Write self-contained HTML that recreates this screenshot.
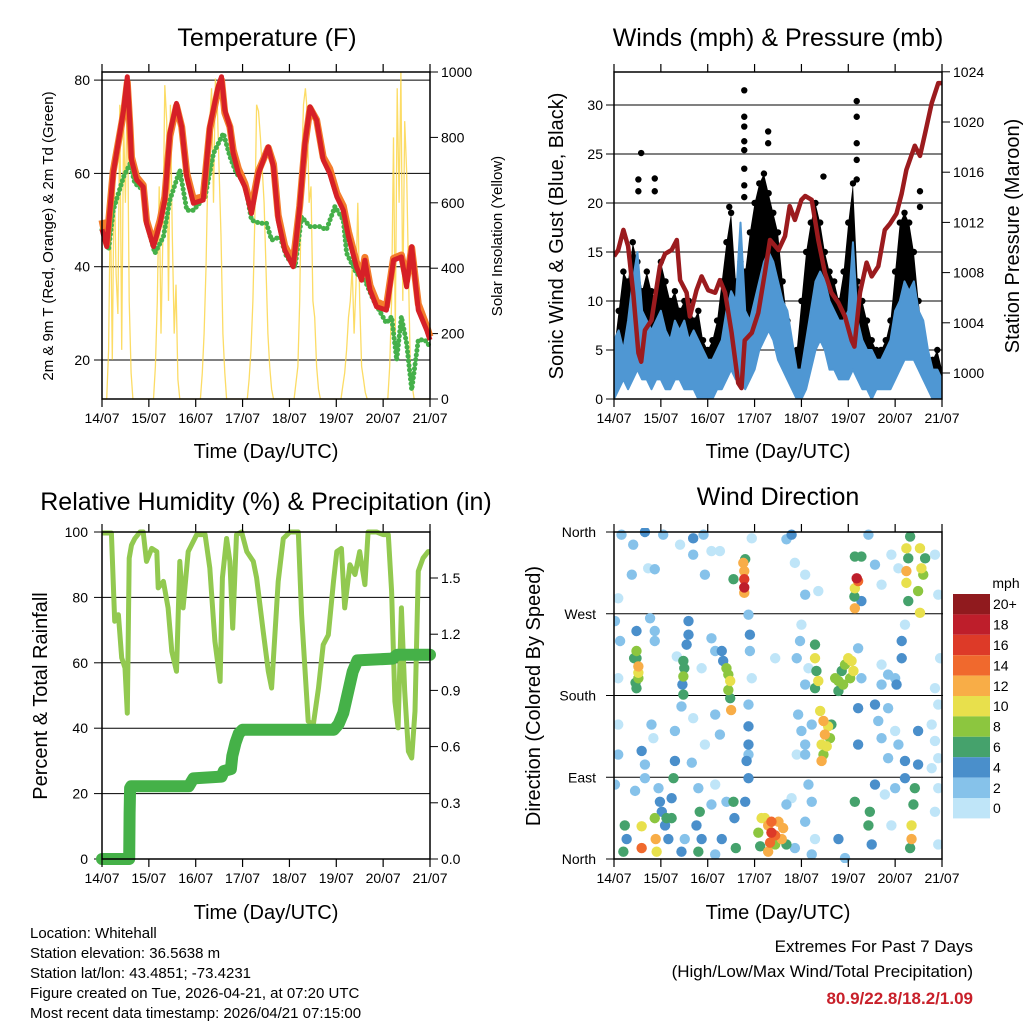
<!DOCTYPE html>
<html><head><meta charset="utf-8"><style>
html,body{margin:0;padding:0;background:#fff;}
svg{display:block;font-family:"Liberation Sans",Arial,sans-serif;}
</style></head><body>
<svg id="fig" width="1024" height="1024" viewBox="0 0 1024 1024" xmlns="http://www.w3.org/2000/svg">
<rect width="1024" height="1024" fill="#fff"/>
<g id="g1"></g>
<g id="g2"></g>
<g id="g3"></g>
<g id="g4"></g>
<g id="gt">
<text x="267" y="46" font-size="25" text-anchor="middle">Temperature (F)</text>
<text x="778" y="46" font-size="25" text-anchor="middle">Winds (mph) &amp; Pressure (mb)</text>
<text x="266" y="510" font-size="25" text-anchor="middle">Relative Humidity (%) &amp; Precipitation (in)</text>
<text x="778" y="505" font-size="25" text-anchor="middle">Wind Direction</text>
<text x="266" y="458" font-size="20" text-anchor="middle">Time (Day/UTC)</text>
<text x="778" y="458" font-size="20" text-anchor="middle">Time (Day/UTC)</text>
<text x="266" y="919" font-size="20" text-anchor="middle">Time (Day/UTC)</text>
<text x="778" y="919" font-size="20" text-anchor="middle">Time (Day/UTC)</text>
<text transform="translate(53,236) rotate(-90)" font-size="15" text-anchor="middle">2m &amp; 9m T (Red, Orange) &amp; 2m Td (Green)</text>
<text transform="translate(502,236) rotate(-90)" font-size="15" text-anchor="middle">Solar Insolation (Yellow)</text>
<text transform="translate(563,236) rotate(-90)" font-size="20" text-anchor="middle">Sonic Wind &amp; Gust (Blue, Black)</text>
<text transform="translate(1019,236) rotate(-90)" font-size="20" text-anchor="middle">Station Pressure (Maroon)</text>
<text transform="translate(47,696) rotate(-90)" font-size="20" text-anchor="middle">Percent &amp; Total Rainfall</text>
<text transform="translate(540,696) rotate(-90)" font-size="20" text-anchor="middle">Direction (Colored By Speed)</text>
<g font-size="15">
<text x="30" y="938">Location: Whitehall</text>
<text x="30" y="958">Station elevation: 36.5638 m</text>
<text x="30" y="978">Station lat/lon: 43.4851; -73.4231</text>
<text x="30" y="998">Figure created on Tue, 2026-04-21, at 07:20 UTC</text>
<text x="30" y="1018">Most recent data timestamp: 2026/04/21 07:15:00</text>
</g>
<g text-anchor="end">
<text x="973" y="952" font-size="17">Extremes For Past 7 Days</text>
<text x="973" y="977" font-size="17">(High/Low/Max Wind/Total Precipitation)</text>
<text x="973" y="1004" font-size="17" font-weight="bold" fill="#c8202a">80.9/22.8/18.2/1.09</text>
</g>
</g>
</svg>
<script>
// ---------- Temperature data ----------
const tT=[0,.10,.24,.46,.54,.60,.63,.74,.88,.95,1.10,1.24,1.34,1.45,1.59,1.70,1.81,1.95,2.16,2.30,2.48,2.55,2.62,2.73,2.80,2.91,3.05,3.19,3.34,3.55,3.66,3.76,3.90,4.08,4.22,4.33,4.44,4.58,4.72,4.86,5.01,5.15,5.26,5.43,5.54,5.61,5.72,5.86,6.07,6.22,6.39,6.50,6.61,6.75,6.93,7.0];
const temp2m=[48,44.3,60,73.6,80.7,70,62.9,58.6,57.1,49.3,44.3,49.3,54.3,68.6,75,70,59.3,53.6,54.3,70,78.6,80.7,73.6,70,64.3,60,57.1,51.4,60,65.7,61.4,50,43.6,40,52.9,66.4,74.3,71.4,62.9,60,55,52.1,46.4,40,37.1,41.4,35,31.4,30.7,41.4,42.1,35.7,44.3,30.7,26.4,24.3];
const temp9m=[50,45,60.5,73,79.5,69.5,63.5,59.2,57.5,50,45,50,55,68,74.5,70,60,54.5,55,69.5,78,80,73,70,65,61,57.8,52.5,60.5,65.5,62,51,44.5,41,53,66,74,71.5,63.5,61,55.8,53,47.5,41,38,42,36,32.5,31.5,41.8,42.5,37,44,32,27.2,25];
const tTd=[0,.14,.24,.46,.60,.70,.88,.99,1.13,1.31,1.45,1.66,1.81,1.95,2.20,2.38,2.59,2.73,2.87,3.05,3.19,3.37,3.51,3.62,3.80,3.94,4.12,4.26,4.44,4.65,4.79,4.97,5.15,5.22,5.43,5.61,5.79,6.07,6.18,6.29,6.39,6.50,6.61,6.75,6.89,7.0];
const dew2m=[47.9,43.6,52.1,59.3,62.1,57.9,56.4,47.9,42.9,46.4,54.3,60.7,52.1,52.1,55,64.3,68.6,63.6,60,57.9,50,49.3,49.3,45.7,46.4,42.1,40,50.7,48.6,48.6,47.9,52.9,50,42.9,38.6,37.1,32.9,27.9,29.3,20,29.3,23.6,13.6,24.3,24.3,22.9];
const solarDayFrac=[.10,.14,.18,.22,.26,.30,.34,.38,.42,.46,.50,.54,.58,.62,.66];
const solar=[
[0,150,620,120,700,380,260,900,150,850,600,960,300,80,0],
[0,100,300,650,200,500,960,850,300,900,500,200,350,60,0],
[0,80,200,400,700,850,950,600,980,900,700,500,200,80,0],
[0,60,150,300,550,900,880,800,700,600,400,200,100,30,0],
[0,50,100,300,700,900,950,880,600,650,300,250,100,30,0],
[0,40,80,150,250,300,400,200,350,600,300,100,60,20,0],
[0,100,300,800,200,950,600,1000,300,850,700,400,100,40,0]];
// ---------- Wind data ----------
const windT=[0,.1,.2,.3,.4,.5,.6,.7,.8,.9,1,1.1,1.2,1.3,1.4,1.5,1.6,1.7,1.8,1.9,2,2.1,2.2,2.3,2.4,2.5,2.6,2.7,2.8,2.9,3,3.1,3.2,3.3,3.4,3.5,3.6,3.7,3.8,3.9,4,4.1,4.2,4.3,4.4,4.5,4.6,4.7,4.8,4.9,5,5.1,5.2,5.3,5.4,5.5,5.6,5.7,5.8,5.9,6,6.1,6.2,6.3,6.4,6.5,6.6,6.7,6.8,6.9,7];
const windHi=[6,7,5,8,12,15,9,8,7,8,9,7,6,8,7,8,6,7,6,5,4,4,5,6,9,11,10,18,9,8,10,12,14,15,14,12,10,9,6,3,3,6,9,12,13,12,10,9,8,8,9,16,8,6,5,5,4,4,5,6,9,10,12,11,12,9,8,5,3,3,2];
const windLo=[0,1,2,1,2,3,2,2,1,2,2,1,1,2,2,1,1,1,0,0,0,0,1,1,2,3,2,2,1,2,3,5,6,7,6,4,3,2,1,0,0,1,3,5,6,5,3,3,2,2,2,3,2,1,1,0,1,1,1,1,2,3,4,4,4,3,2,1,0,0,0];
const gust=[5,9,13,12,16,14,11,13,11,10,14,12,10,11,9,10,10,8,9,6,5,6,8,12,16,19,12,14,13,17,20,22,23,21,19,17,12,8,5,5,10,15,18,20,18,15,13,12,10,13,18,22,12,10,8,6,5,5,6,8,13,18,19,18,15,10,6,4,4,5,3];
const peakT=[.52,.52,.58,.87,.87,2.78,2.78,2.78,2.78,2.78,2.78,2.78,2.78,3.29,3.29,5.18,5.18,5.18,5.18,5.18,2.46,6.53,6.53,4.47];
const peakG=[21.2,22.4,25.1,22.5,21.2,31.5,28.8,27.8,26.3,25.4,23.5,21.8,20.6,27.3,26.1,30.4,28.8,26.1,24.4,22.4,19.6,21.2,19.6,22.7];
const presT=[0,.09,.20,.30,.41,.52,.58,.66,.80,.98,1.09,1.23,1.34,1.41,1.55,1.62,1.76,1.87,2.01,2.16,2.26,2.37,2.51,2.65,2.72,2.79,2.94,3.08,3.22,3.33,3.51,3.65,3.75,3.86,4.00,4.08,4.22,4.36,4.50,4.64,4.79,4.93,5.07,5.13,5.25,5.39,5.50,5.64,5.78,5.89,6.03,6.14,6.24,6.42,6.53,6.64,6.78,6.92,7.0];
const pres=[1009.3,1009.8,1011.4,1010.1,1006.4,1001.6,1000.9,1003.4,1004.2,1008.5,1009.5,1009.8,1010.6,1007.4,1006.4,1004.5,1006.6,1007.7,1006.6,1006.4,1007.4,1006.4,1003.2,999.2,998.8,1002.6,1003.2,1004.8,1008,1010.6,1009.8,1010.9,1013.3,1012.2,1013.8,1014.1,1013.8,1010.6,1008,1006.4,1005.6,1004.5,1002.6,1002.1,1006.4,1008.8,1007.7,1008.5,1011.4,1011.9,1012.7,1014.3,1016.2,1018.1,1017.3,1019.1,1021.5,1023.1,1023.1];
// ---------- RH / rain data ----------
const rhT=[0,.20,.27,.35,.42,.49,.54,.58,.63,.70,.81,.88,.95,1.06,1.17,1.20,1.31,1.41,1.49,1.59,1.66,1.73,1.84,2.02,2.20,2.30,2.41,2.52,2.57,2.66,2.73,2.79,2.87,2.98,3.09,3.23,3.30,3.44,3.55,3.62,3.76,3.87,4.01,4.19,4.26,4.40,4.51,4.62,4.72,4.83,4.94,5.01,5.11,5.18,5.29,5.40,5.50,5.61,5.68,5.86,6.00,6.11,6.18,6.25,6.32,6.39,6.46,6.54,6.61,6.68,6.75,6.85,6.96,7.0];
const rh=[99.7,99.7,72.7,74.7,61.5,58.4,44.6,92,96,98,100,100,91,95,94,82.9,84.9,76.8,63.5,57.4,91,76.8,94,99.2,99.2,89,66.6,54.3,86,98,91,70.6,99.2,100,94,91,86,69.6,57.4,52.3,84.9,98,100,100,74.7,42.1,41.1,52.3,65.5,68.5,84.9,94,95,76.8,90,87,94,83.9,100,100,99.2,99.2,81.9,48.2,40.1,76.8,51.3,32.9,30.9,45.2,88,92,94,94];
const rainT=[0,.58,.59,.60,.62,1.85,1.95,2.55,2.60,2.75,2.78,2.85,2.92,3.0,4.95,5.05,5.15,5.35,5.45,6.2,6.3,7.0];
const rain=[0,0,.246,.379,.388,.388,.43,.44,.47,.48,.55,.62,.67,.69,.69,.72,.78,1.0,1.06,1.07,1.09,1.09];
// ---------- Wind direction data ----------
const dirT=[.48,.48,.52,.52,.52,.46,.48,.43, 1.48,1.50,1.48,1.46,1.48, 2.30,2.33,2.40,2.44,2.48,2.44,2.48,2.50,
4.29,4.29,4.32,4.36,4.29,4.72,4.79,4.86,4.93,5.00,5.07,5.11,4.79,4.89,5.04,
4.40,4.47,4.57,4.50,4.43,4.54,4.47,4.43,4.64,4.61,
2.80,2.76,2.78,2.78,2.78,2.78,2.55,
5.14,5.28,5.18,5.21,5.14,5.13,5.14,5.28,
6.32,6.24,6.28,6.53,6.56,6.60,6.24,6.49,6.64,6.28,6.53,6.24,
3.15,3.22,3.29,3.36,3.44,3.51,3.61,3.58,3.33,3.29,3.08,3.12,3.68,3.44,3.36,
.23,.27,.20,.59,.59,.87,.89,.91,1.02,1.09,1.16,1.23,1.27,.98,1.12,
1.76,1.83,1.87,1.80, 2.55,2.57,2.60, 5.46,5.43,5.50,5.14, 6.42,6.39,6.35,6.35,6.32,
.16,.41,.66,.73,.87,.38,1.05,1.41,1.69,1.69,1.91,1.94,2.08,2.26,2.94,2.87,3.68,3.79,3.86,4.08,4.08,4.36,5.43,5.57,5.71,5.92,6.07,6.85,6.92,.09,
.02,.13,.48,.77,.87,.87,1.59,1.59,1.55,1.34,2.08,2.16,1.87,2.90,2.90,2.94,3.44,4.00,3.97,3.90,4.08,4.15,5.21,5.28,5.71,6.00,6.14,6.14,6.03,6.21,6.96,6.85,.09,5.71,5.85,
.09,.09,.59,.66,.80,.84,1.30,1.30,1.44,1.69,1.66,1.94,2.16,2.26,2.87,2.87,2.87,2.87,2.83,3.93,4.00,4.08,4.08,3.90,4.22,5.21,5.21,5.64,5.71,5.85,6.00,6.07,6.21,6.49,6.49,6.78,6.85,6.92,6.78,6.92,5.57,5.85,
.02,.45,.66,.95,1.23,1.80,2.16,2.08,2.40,2.87,2.80,3.68,3.79,4.15,4.22,4.08,4.29,4.22,3.86,4.79,4.93,5.57,5.78,6.00,5.92,6.21,6.92,6.85,6.92,2.30,2.16,1.44,1.51];
const dirDeg=[229,221,212,205,199,194,188,221, 218,210,201,192,181, 229,218,210,203,196,186,177,164,
236,221,207,196,188,199,196,207,214,221,218,207,185,192,199,
163,152,146,137,126,124,115,108,148,133,
330,326,317,308,299,293,308,
333,333,309,306,298,289,276,284,
355,342,331,342,320,313,317,295,331,284,271,304,
45,45,37,41,26,41,34,22,18,8,29,14,16,16,29,
37,22,8,36,12,45,22,8,52,37,22,45,89,63,45,
37,52,22,8, 63,45,12, 52,37,16,63, 78,60,37,22,12,
357,346,360,320,319,313,357,346,353,335,357,313,339,339,353,269,352,357,326,313,291,295,357,324,302,335,320,335,291,287,
262,240,251,265,251,240,262,247,236,223,243,229,210,247,229,199,221,258,240,221,192,210,232,199,214,199,240,221,192,258,221,188,199,192,203,
148,115,119,104,148,133,141,108,168,155,106,126,159,137,170,146,126,115,108,159,141,126,115,115,148,166,126,152,133,111,141,126,108,141,104,148,130,111,100,170,170,166,
82,75,89,78,67,78,82,60,63,89,63,60,67,82,63,41,22,5,12,22,1,82,71,78,37,89,78,52,16,22,5,8,22];
const dirSpd=[8,7,12,10,9,7,6,6, 6,7,8,5,6, 4,5,9,8,10,9,7,13,
6,10,7,10,6,8,9,7,8,10,11,10,7,8,9,
10,12,10,12,10,11,8,13,7,9,
7,12,13,16,19,13,7,
7,6,18,14,11,7,13,5,
7,10,7,10,10,8,13,8,6,7,10,10,
11,10,13,15,14,12,13,12,14,13,8,7,6,9,16,
6,5,7,10,15,8,13,10,4,4,5,6,6,4,7,
5,6,4,6, 7,4,6, 6,7,5,6, 7,6,10,13,7,
2,3,5,1,2,2,3,1,4,3,3,2,1,1,1,3,3,4,1,1,2,1,3,2,1,1,1,1,1,1,
2,3,4,2,2,3,4,4,4,1,3,3,1,4,3,1,1,1,2,3,2,1,3,2,1,3,4,4,4,1,1,1,1,2,2,
1,2,4,3,2,1,3,4,3,1,2,1,2,2,3,4,4,3,4,2,3,2,2,1,2,4,4,2,2,2,1,3,4,4,4,1,1,1,1,1,4,3,
2,3,3,2,5,2,1,2,3,4,4,3,1,2,3,2,1,3,3,4,2,4,1,2,1,4,1,1,1,4,2,4,3];
const speedLevels=["0","2","4","6","8","10","12","14","16","18","20+"];
const speedColors=["#bfe5f8","#86c2ea","#4a8fcb","#45a26c","#8cc63f","#e8e04c","#f8ad47","#f0692d","#dd3a28","#be1e2b","#901a1e"];

// ---------- helpers ----------
const NS="http://www.w3.org/2000/svg";
function mk(parent,tag,attrs){const e=document.createElementNS(NS,tag);for(const k in attrs)e.setAttribute(k,attrs[k]);parent.appendChild(e);return e;}
function txt(parent,x,y,s,anchor,size){const e=mk(parent,"text",{x:x,y:y,"font-size":size||14,"text-anchor":anchor||"middle"});e.textContent=s;return e;}
const days=["14/07","15/07","16/07","17/07","18/07","19/07","20/07","21/07"];
function frame(g,x0,x1,y0,y1,name){
  const r=mk(g,"rect",{x:x0,y:y0,width:x1-x0,height:y1-y0,fill:"none",stroke:"#000","stroke-width":1.5});
  
  
  const sx=t=>x0+t*(x1-x0)/7;
  for(let i=0;i<=7;i++){
    const x=sx(i);
    mk(g,"line",{x1:x,x2:x,y1:y1,y2:y1+8,stroke:"#000","stroke-width":1.2});
    mk(g,"line",{x1:x,x2:x,y1:y0,y2:y0-8,stroke:"#000","stroke-width":1.2});
    const l=txt(g,x,y1+24,days[i],"middle",14);
    
    
  }
  return sx;
}
function hgrid(g,x0,x1,y){mk(g,"line",{x1:x0,x2:x1,y1:y,y2:y,stroke:"#000","stroke-width":1});}
function poly(g,pts,attrs){const a=Object.assign({points:pts.map(p=>p[0].toFixed(1)+","+p[1].toFixed(1)).join(" "),fill:"none"},attrs);return mk(g,"polyline",a);}

// ---------- Panel 1 ----------
(function(){
  const g=document.getElementById("g1");
  const x0=102,x1=430,y0=72,y1=399;
  const sy=v=>360-(v-20)*93.3/20;
  const sr=v=>399-v*0.327;
  const sx=t=>x0+t*(x1-x0)/7;
  [20,40,60,80].forEach(v=>{hgrid(g,x0,x1,sy(v));mk(g,"line",{x1:x0-8,x2:x0,y1:sy(v),y2:sy(v),stroke:"#000"});const l=txt(g,x0-12,sy(v)+5,String(v),"end",14);});
  [0,200,400,600,800,1000].forEach(v=>{mk(g,"line",{x1:x1,x2:x1+8,y1:sr(v),y2:sr(v),stroke:"#000"});const l=txt(g,x1+11,sr(v)+5,String(v),"start",14);});
  const sp=[];
  solar.forEach((arr,d)=>arr.forEach((v,i)=>sp.push([sx(d+solarDayFrac[i]),sr(v)])));
  sp.unshift([sx(0),sr(0)]);sp.push([sx(7),sr(0)]);
  const s=poly(g,sp,{stroke:"#fbd64a","stroke-width":1.3,"stroke-opacity":0.85});
  
  
  const td=poly(g,tTd.map((t,i)=>[sx(t),sy(dew2m[i])]),{stroke:"#45b04a","stroke-width":5,"stroke-linecap":"round","stroke-dasharray":"0.1 4.5"});
  
  
  const o=poly(g,tT.map((t,i)=>[sx(t),sy(temp9m[i])]),{stroke:"#f47d2c","stroke-width":7,"stroke-linejoin":"round"});
  
  
  const r=poly(g,tT.map((t,i)=>[sx(t),sy(temp2m[i])]),{stroke:"#d62027","stroke-width":5,"stroke-linejoin":"round"});
  
  
  frame(g,x0,x1,y0,y1,"temperature");
})();

// ---------- Panel 2 ----------
(function(){
  const g=document.getElementById("g2");
  const x0=614,x1=942,y0=72,y1=399;
  const sy=v=>399-v*9.8;
  const sp=v=>373-(v-1000)*12.55;
  const sx=t=>x0+t*(x1-x0)/7;
  const cp=mk(g,"clipPath",{id:"c2"});mk(cp,"rect",{x:x0,y:y0,width:x1-x0,height:y1-y0});
  [5,10,15,20,25,30].forEach(v=>hgrid(g,x0,x1,sy(v)));
  [0,5,10,15,20,25,30].forEach(v=>{mk(g,"line",{x1:x0-8,x2:x0,y1:sy(v),y2:sy(v),stroke:"#000"});const l=txt(g,x0-11,sy(v)+5,String(v),"end",14);});
  [1000,1004,1008,1012,1016,1020,1024].forEach(v=>{mk(g,"line",{x1:x1,x2:x1+8,y1:sp(v),y2:sp(v),stroke:"#000"});const l=txt(g,x1+11,sp(v)+5,String(v),"start",14);});
  const band=windT.map((t,i)=>[sx(t),sy(gust[i])]).concat(windT.map((t,i)=>[sx(t),sy(windLo[i])]).reverse());
  const gb=mk(g,"polygon",{points:band.map(p=>p.join(",")).join(" "),fill:"#000"});
  
  
  const gd=mk(g,"g",{fill:"#000","clip-path":"url(#c2)"});
  
  
  windT.forEach((t,i)=>{mk(gd,"circle",{cx:sx(t),cy:sy(gust[i]),r:3.2});});
  peakT.forEach((t,i)=>{mk(gd,"circle",{cx:sx(t),cy:sy(peakG[i]),r:3.2});});
  const wb=windT.map((t,i)=>[sx(t),sy(windHi[i])]).concat(windT.map((t,i)=>[sx(t),sy(windLo[i])]).reverse());
  const wp=mk(g,"polygon",{points:wb.map(p=>p.join(",")).join(" "),fill:"#4f97d3",stroke:"#4f97d3","stroke-width":2,"stroke-linejoin":"round","clip-path":"url(#c2)"});
  
  
  const pl=poly(g,presT.map((t,i)=>[sx(t),sp(pres[i])]),{stroke:"#9b1b1e","stroke-width":4.5,"stroke-linejoin":"round","clip-path":"url(#c2)"});
  
  
  frame(g,x0,x1,y0,y1,"winds");
})();

// ---------- Panel 3 ----------
(function(){
  const g=document.getElementById("g3");
  const x0=102,x1=430,y0=532,y1=859;
  const sy=v=>y1-v*3.27;
  const sr=v=>y1-v/0.3*56.2;
  const sx=t=>x0+t*(x1-x0)/7;
  [20,40,60,80].forEach(v=>hgrid(g,x0,x1,sy(v)));
  [0,20,40,60,80,100].forEach(v=>{mk(g,"line",{x1:x0-8,x2:x0,y1:sy(v),y2:sy(v),stroke:"#000"});const l=txt(g,x0-14,sy(v)+5,String(v),"end",14);});
  ["0.0","0.3","0.6","0.9","1.2","1.5"].forEach(s=>{const v=parseFloat(s);mk(g,"line",{x1:x1,x2:x1+8,y1:sr(v),y2:sr(v),stroke:"#000"});const l=txt(g,x1+11,sr(v)+5,s,"start",14);});
  const rl=poly(g,rhT.map((t,i)=>[sx(t),sy(rh[i])]),{stroke:"#92c950","stroke-width":5,"stroke-linejoin":"round"});
  
  
  const pr=poly(g,rainT.map((t,i)=>[sx(t),sr(rain[i])]),{stroke:"#45b148","stroke-width":12,"stroke-linejoin":"round","stroke-linecap":"round"});
  
  
  frame(g,x0,x1,y0,y1,"humidity");
})();

// ---------- Panel 4 ----------
(function(){
  const g=document.getElementById("g4");
  const x0=614,x1=942,y0=532,y1=859;
  const sy=d=>y1-d*(y1-y0)/360;
  const sx=t=>x0+t*(x1-x0)/7;
  [90,180,270].forEach(v=>hgrid(g,x0,x1+1,sy(v)));
  ["North","East","South","West","North"].forEach((s,i)=>{const y=sy(i*90);mk(g,"line",{x1:x0-8,x2:x0,y1:y,y2:y,stroke:"#000"});const l=txt(g,x0-18,y+5,s,"end",14);});
  const cp=mk(g,"clipPath",{id:"c4"});mk(cp,"rect",{x:x0,y:y0-4,width:x1-x0,height:y1-y0+8});
  const pts=mk(g,"g",{"clip-path":"url(#c4)"});
  
  
  const order=dirT.map((t,i)=>i).sort((a,b)=>dirSpd[a]-dirSpd[b]);
  order.forEach(i=>{
    const k=Math.min(10,Math.floor(dirSpd[i]/2));
    mk(pts,"circle",{cx:sx(dirT[i]),cy:sy(dirDeg[i]),r:5.2,fill:speedColors[k]});
  });
  frame(g,x0,x1,y0,y1,"wind-direction");
  const cb=mk(g,"g",{});
  
  
  const bx=953,bw=37,by0=594,bh=20.4;
  const u=txt(cb,1006,588,"mph","middle",14);
  
  
  for(let j=0;j<11;j++){
    const k=10-j;const y=by0+j*bh;
    mk(cb,"rect",{x:bx,y:y,width:bw,height:bh,fill:speedColors[k]});
    const l=txt(cb,bx+40,y+bh/2+5,speedLevels[k],"start",14);
    
    
  }
})();
</script>
</body></html>
